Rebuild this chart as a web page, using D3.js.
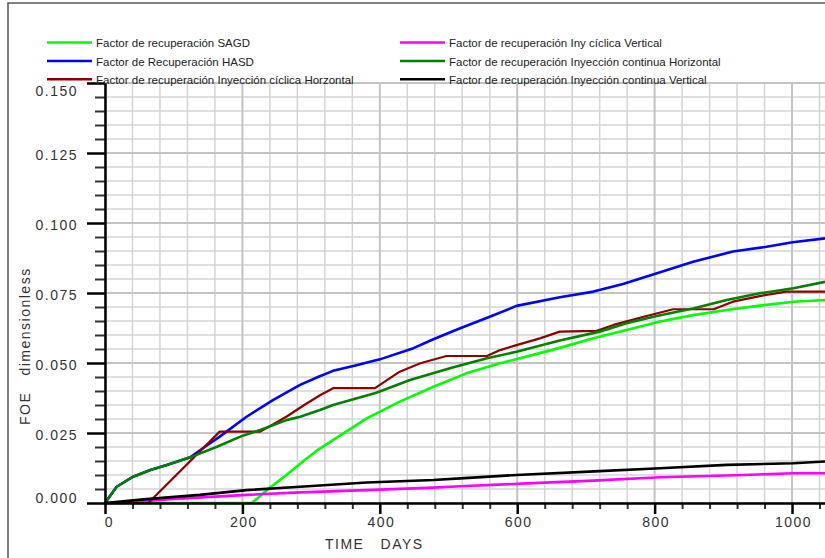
<!DOCTYPE html>
<html>
<head>
<meta charset="utf-8">
<script src="https://cdn.jsdelivr.net/npm/d3@7"></script>
<style>
  html, body { margin: 0; padding: 0; background: #fff; }
  svg { display: block; font-family: "Liberation Sans", Arial, sans-serif; }
</style>
</head>
<body>
<svg id="chart" width="825" height="558"></svg>
<script>
// ---------------- DATA ----------------
const seriesNames = [
  "Factor de recuperación SAGD",
  "Factor de Recuperación HASD",
  "Factor de recuperación Inyección cíclica Horzontal",
  "Factor de recuperación Iny cíclica Vertical",
  "Factor de recuperación Inyección continua Horizontal",
  "Factor de recuperación Inyección continua Vertical"
];
const seriesColors = ["#00ff00", "#0000ff", "#8b0000", "#ff00ff", "#008000", "#000000"];

// [days, FOE]
const sagd = [[0,0],[214,0],[235,0.0045],[264,0.0100],[289,0.0150],[310,0.0190],[330,0.0222],[381,0.0302],[429,0.0362],[478,0.0415],[526,0.0463],[575,0.0499],[623,0.0529],[662,0.0554],[711,0.0588],[759,0.0618],[808,0.0648],[856,0.0671],[905,0.0689],[953,0.0705],[1002,0.0719],[1048,0.0725]];
const hasd = [[0,0],[17,0.0058],[41,0.0094],[66,0.0118],[90,0.0136],[124,0.0163],[145,0.0200],[167,0.0237],[206,0.0308],[245,0.0368],[284,0.0422],[310,0.0450],[332,0.0472],[366,0.0492],[400,0.0513],[449,0.0553],[478,0.0585],[517,0.0624],[560,0.0665],[599,0.0704],[662,0.0735],[711,0.0755],[754,0.0782],[800,0.0818],[856,0.0862],[914,0.0898],[963,0.0915],[1001,0.0931],[1048,0.0945]];
const ciclicaHorizontal = [[0,0],[63,0],[167,0.0255],[226,0.0255],[264,0.0308],[290,0.0350],[313,0.0385],[332,0.0410],[393,0.0410],[429,0.0469],[459,0.0499],[497,0.0525],[556,0.0525],[575,0.0546],[599,0.0564],[633,0.0588],[662,0.0612],[716,0.0615],[740,0.0636],[784,0.0665],[827,0.0692],[886,0.0692],[914,0.0719],[953,0.0739],[992,0.0755],[1048,0.0755]];
const ciclicaVertical = [[0,0],[24,0],[90,0.0013],[206,0.0029],[284,0.0038],[381,0.0046],[478,0.0055],[517,0.0060],[614,0.0070],[711,0.0080],[808,0.0092],[929,0.0100],[1002,0.0106],[1048,0.0106]];
const continuaHorizontal = [[0,0],[17,0.0058],[41,0.0094],[66,0.0118],[90,0.0136],[124,0.0163],[163,0.0201],[197,0.0237],[226,0.0261],[264,0.0296],[284,0.0308],[313,0.0332],[332,0.0350],[395,0.0394],[444,0.0439],[502,0.0481],[556,0.0517],[599,0.0540],[662,0.0580],[720,0.0612],[759,0.0642],[803,0.0668],[856,0.0695],[905,0.0725],[953,0.0749],[1002,0.0767],[1048,0.0790]];
const continuaVertical = [[0,0],[56,0.0013],[138,0.0029],[206,0.0046],[284,0.0058],[381,0.0073],[478,0.0082],[517,0.0088],[599,0.0100],[720,0.0114],[808,0.0124],[905,0.0136],[1002,0.0142],[1048,0.0148]];

const seriesData = [sagd, hasd, ciclicaHorizontal, ciclicaVertical, continuaHorizontal, continuaVertical];
const drawOrder = [0, 3, 1, 2, 4, 5];

const xMajorTicks = [0, 200, 400, 600, 800, 1000];
const xMinorTicks = d3.range(40, 1041, 40).filter(v => v % 200 !== 0);
const yMajorTicks = [0, 0.025, 0.05, 0.075, 0.1, 0.125, 0.15];
const yMinorTicks = d3.range(1, 30).map(i => i * 0.005).filter((v, i) => (i + 1) % 5 !== 0);
const xTitle = "TIME   DAYS";
const yTitle = "FOE   dimensionless";

// ---------------- LAYOUT ----------------
const svg = d3.select("#chart");
const L = 105, R = 825, T = 83, B = 503;
const x = d3.scaleLinear().domain([0, 1048]).range([L, R]);
const y = d3.scaleLinear().domain([0, 0.15]).range([B, T]);

// outer frame
svg.append("path").attr("d", "M8,558V3H825").attr("fill", "none").attr("stroke", "#555").attr("stroke-width", 1.5);

// grid
const grid = svg.append("g");
xMinorTicks.forEach(v => grid.append("line").attr("x1", x(v)).attr("x2", x(v)).attr("y1", T).attr("y2", B)
  .attr("stroke", "#d4d4d4").attr("stroke-width", 1.5));
yMinorTicks.forEach(v => grid.append("line").attr("x1", L).attr("x2", R).attr("y1", y(v)).attr("y2", y(v))
  .attr("stroke", "#d4d4d4").attr("stroke-width", 1.5));
xMajorTicks.forEach(v => grid.append("line").attr("x1", x(v)).attr("x2", x(v)).attr("y1", T).attr("y2", B)
  .attr("stroke", "#c4c4c4").attr("stroke-width", 2));
yMajorTicks.forEach(v => grid.append("line").attr("x1", L).attr("x2", R).attr("y1", y(v)).attr("y2", y(v))
  .attr("stroke", "#c4c4c4").attr("stroke-width", 2));

// series
const line = d3.line().x(d => x(d[0])).y(d => y(d[1]));
drawOrder.forEach(i => {
  svg.append("path").datum(seriesData[i])
    .attr("d", line)
    .attr("fill", "none")
    .attr("stroke", seriesColors[i])
    .attr("stroke-width", i === 2 ? 2.2 : 2.6)
    .attr("stroke-linejoin", "round");
});

// minor axes
const yMinorAxis = svg.append("g").attr("transform", `translate(${L},0)`)
  .call(d3.axisLeft(y).tickValues(yMinorTicks).tickSize(10).tickSizeOuter(0).tickFormat(""));
yMinorAxis.select(".domain").remove();
yMinorAxis.selectAll(".tick line").attr("stroke", "#333").attr("stroke-width", 2);

const xMinorAxis = svg.append("g").attr("transform", `translate(0,${B})`)
  .call(d3.axisBottom(x).tickValues(xMinorTicks).tickSize(6).tickSizeOuter(0).tickFormat(""));
xMinorAxis.select(".domain").remove();
xMinorAxis.selectAll(".tick line").attr("stroke", "#333").attr("stroke-width", 2);

// major axes
const yAxis = svg.append("g").attr("transform", `translate(${L},0)`)
  .call(d3.axisLeft(y).tickValues(yMajorTicks).tickSize(18).tickPadding(9).tickSizeOuter(0).tickFormat(d3.format(".3f")));
yAxis.select(".domain").attr("stroke", "#000").attr("stroke-width", 2.5);
yAxis.selectAll(".tick line").attr("stroke", "#000").attr("stroke-width", 2.5);
yAxis.selectAll(".tick text")
  .attr("font-size", 14).attr("fill", "#333").attr("letter-spacing", "1.5px")
  .attr("font-family", "'Liberation Sans', Arial, sans-serif")
  .attr("transform", d => d === 0 ? "translate(0,-5)" : (d === 0.15 ? "translate(0,8)" : "translate(0,2)"));

const xAxis = svg.append("g").attr("transform", `translate(0,${B})`)
  .call(d3.axisBottom(x).tickValues(xMajorTicks).tickSize(11).tickPadding(3).tickSizeOuter(0).tickFormat(d3.format("d")));
xAxis.select(".domain").attr("stroke", "#000").attr("stroke-width", 2.5);
xAxis.selectAll(".tick line").attr("stroke", "#000").attr("stroke-width", 2.5);
xAxis.selectAll(".tick text")
  .attr("font-size", 14).attr("fill", "#333").attr("letter-spacing", "1.5px")
  .attr("font-family", "'Liberation Sans', Arial, sans-serif")
  .attr("transform", d => d === 0 ? "translate(4,0)" : "translate(1,0)");

// axis titles
svg.append("text").attr("x", 325).attr("y", 549)
  .attr("font-size", 14).attr("fill", "#333").attr("letter-spacing", "1.5px")
  .style("white-space", "pre").text(xTitle);
svg.append("text").attr("transform", "translate(30,425) rotate(-90)")
  .attr("font-size", 14).attr("fill", "#333").attr("letter-spacing", "1.5px")
  .style("white-space", "pre").text(yTitle);

// legend
const legendPos = [
  {sx: 47, tx: 96, y: 42.5}, {sx: 47, tx: 96, y: 61}, {sx: 47, tx: 96, y: 79.3},
  {sx: 400, tx: 449, y: 42.5}, {sx: 400, tx: 449, y: 61}, {sx: 400, tx: 449, y: 79.3}
];
const leg = svg.append("g");
seriesNames.forEach((name, i) => {
  const p = legendPos[i];
  leg.append("line").attr("x1", p.sx).attr("x2", p.sx + 45).attr("y1", p.y).attr("y2", p.y)
    .attr("stroke", seriesColors[i]).attr("stroke-width", 2.5);
  leg.append("text").attr("x", p.tx).attr("y", p.y + 4.5)
    .attr("font-size", 11.5).attr("fill", "#222").text(name);
});
</script>
</body>
</html>
